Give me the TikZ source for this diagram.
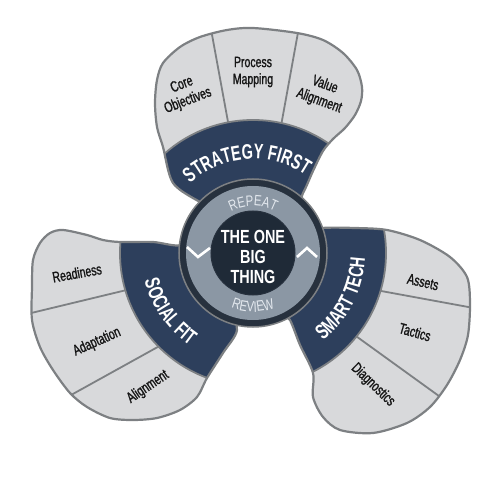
\documentclass[tikz,border=0pt]{standalone}
\usepackage{fontspec}
\setmainfont{Liberation Sans}
\newfontfamily\narrowfont[FakeStretch=0.76]{Liberation Sans}
\newfontfamily\bandfamily[FakeStretch=0.69]{Liberation Sans}
\newfontfamily\leaffont[FakeStretch=0.7,FakeBold=1.3]{Liberation Sans}
\usetikzlibrary{decorations.text}

\definecolor{navyband}{HTML}{2D3F5C}
\definecolor{hubdark}{HTML}{1F2A37}
\definecolor{hubrim}{HTML}{27313E}
\definecolor{ringgray}{HTML}{8B97A4}
\definecolor{petalgray}{HTML}{D8D9DB}
\definecolor{rimgray}{HTML}{7D8083}
\definecolor{ringtext}{HTML}{E3E8EE}
\definecolor{labelink}{HTML}{161616}

\newcommand\bandfont{\bandfamily\bfseries\fontsize{21}{21}\selectfont\color{white}}
\newcommand\loopfont{\narrowfont\fontsize{15}{15}\selectfont\color{ringtext}}

%% lobe outlines, centre of the hub at the origin
\newcommand\toplobe{plot[smooth cycle] coordinates {(38,45) (50,60) (60,82) (70,102) (80,114)
  (92,125) (102,138) (108,152) (109,166) (104,183) (90,200) (70,213) (44,220) (0,225)
  (-26,223) (-53,216) (-73,206) (-90,190) (-96,173) (-98,150) (-96,126) (-90,106)
  (-80,70) (-53,51) (-38,45)}}
\newcommand\leftlobe{plot[smooth cycle] coordinates {(-55,25) (-72,8) (-100,11) (-133,11)
  (-150,13) (-166,18) (-190,23) (-203,20) (-213,10) (-220,-7) (-221,-34) (-221,-67)
  (-213,-94) (-200,-117) (-183,-140) (-166,-154) (-143,-165) (-120,-167) (-96,-165)
  (-73,-157) (-56,-144) (-46,-125) (-30,-100) (-16,-77) (-25,-52)}}
\newcommand\rightlobe{plot[smooth cycle] coordinates {(25,-50) (37,-67) (47,-92) (60,-120)
  (60,-144) (70,-164) (87,-177) (120,-180) (154,-170) (177,-154) (194,-132) (207,-107)
  (215,-82) (217,-50) (214,-24) (197,-4) (167,13) (134,23) (102,25) (69,25) (45,20)}}

\tikzset{
  petal/.style={fill=petalgray},
  rim/.style={draw=rimgray, line width=2.2pt, line join=round},
  divider/.style={draw=rimgray, line width=1.8pt},
  chevron/.style={draw=white, line width=2.6pt, line join=miter},
  leaf/.style={font=\leaffont\fontsize{15}{17}\selectfont, text=labelink, align=center, inner sep=0pt},
  hubtext/.style={font=\narrowfont\bfseries\fontsize{19}{20}\selectfont, text=white, align=center, inner sep=0pt},
}

\begin{document}
\begin{tikzpicture}[x=1pt,y=1pt]
    \useasboundingbox (-253,-247) rectangle (247,253);
    %% strategy first
    \fill[petal] \toplobe;
    \begin{scope}
        \clip \toplobe;
        \draw[divider] (-18,93) -- (-47,251) (22,94) -- (50,248);
        \fill[navyband] (0,0) circle (133);
        \draw[divider] (0,0) circle (133);
    \end{scope}
    \draw[rim] \toplobe;
    %% social fit
    \fill[petal] \leftlobe;
    \begin{scope}
        \clip \leftlobe;
        \draw[divider] (-89,-28) -- (-255,-68) (-61,-75) -- (-209,-157);
        \fill[navyband] (0,0) circle (133);
        \draw[divider] (0,0) circle (133);
    \end{scope}
    \draw[rim] \leftlobe;
    %% smart tech
    \fill[petal] \rightlobe;
    \begin{scope}
        \clip \rightlobe;
        \draw[divider] (90,-31) -- (248,-60) (71,-60) -- (215,-164);
        \fill[navyband] (0,0) circle (133);
        \draw[divider] (0,0) circle (133);
    \end{scope}
    \draw[rim] \rightlobe;
    %% band labels
    \path[decorate, decoration={text along path, text align=center,
        text={|\bandfont|STRATEGY FIRST}}] (150:94) arc (150:38:94);
    \path[decorate, decoration={text along path, text align=center,
        text={|\bandfont|SOCIAL FIT}}] (170:112) arc (170:260:112);
    \path[decorate, decoration={text along path, text align=center,
        text={|\bandfont|SMART TECH}}] (-72:112) arc (-72:18:112);
    %% hub
    \draw[fill=hubrim, draw=rimgray, line width=1.5pt] (0,0) circle (74);
    \fill[ringgray] (0,0) circle (67);
    \draw[fill=hubdark, draw=hubrim, line width=1pt] (0,0) circle (42);
    \draw[chevron] (-66,6) -- (-55,-4) -- (-43,5);
    \draw[chevron] (44,-4) -- (54,5) -- (64,-4);
    \path[decorate, decoration={text along path, text align=center,
        text={|\loopfont|REPEAT}}] (150:47) arc (150:30:47);
    \path[decorate, decoration={text along path, text align=center,
        text={|\loopfont|REVIEW}}] (225:59) arc (225:315:59);
    \node[hubtext] (hub) at (0,-4) {THE ONE\\BIG\\THING};
    %% petal labels
    \node[leaf, rotate=21] (core) at (-68,160) {Core\\Objectives};
    \node[leaf] (process) at (0,181) {Process\\Mapping};
    \node[leaf, rotate=-20] (value) at (69,160) {Value\\Alignment};
    \node[leaf, rotate=10] (readiness) at (-176,-20) {Readiness};
    \node[leaf, rotate=24] (adaptation) at (-156,-89) {Adaptation};
    \node[leaf, rotate=34] (alignment) at (-105,-134) {Alignment};
    \node[leaf, rotate=-13] (assets) at (170,-29) {Assets};
    \node[leaf, rotate=-16] (tactics) at (162,-79) {Tactics};
    \node[leaf, rotate=-44] (diagnostics) at (120,-132) {Diagnostics};
\end{tikzpicture}
\end{document}
